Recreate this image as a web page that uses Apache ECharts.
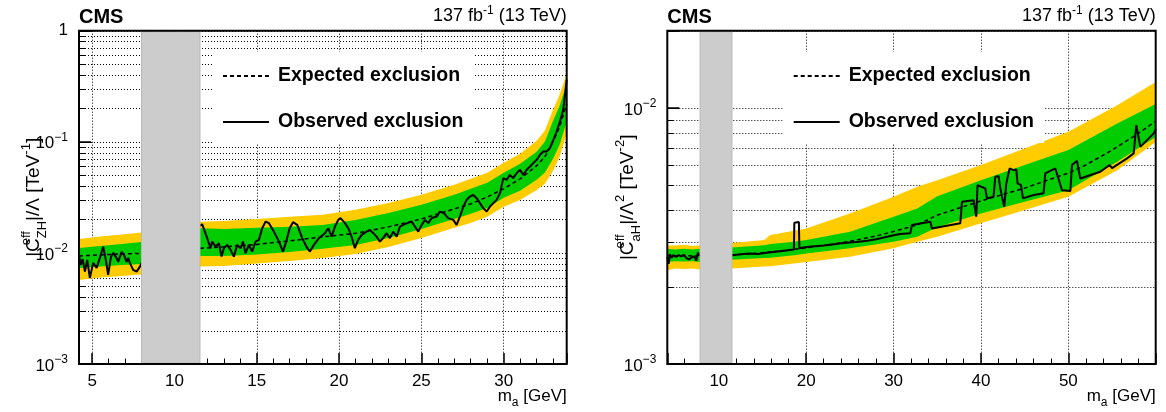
<!DOCTYPE html>
<html><head><meta charset="utf-8">
<script src="https://cdn.jsdelivr.net/npm/echarts@6/dist/echarts.min.js"></script>
<style>html,body{margin:0;padding:0;background:#fff}#c{width:1166px;height:412px}</style>
</head><body><div id="c"></div>
<script>
// ================= DATA =================
// Left panel: |C_ZH^eff|/Lambda vs m_a
const L_xRange = [4.2, 33.83];
const L_yRange = [0.001, 1];
const L_veto = [8.0, 11.55];
// rows: [m_a, -2sigma, -1sigma, +1sigma, +2sigma]
const L_band = [
  [4.2, 0.00571, 0.00733, 0.01109, 0.01337],
  [5.5, 0.00602, 0.00756, 0.01156, 0.01408],
  [6.8, 0.00621, 0.0078, 0.01205, 0.01468],
  [8.0, 0.0064, 0.00796, 0.01256, 0.0153],
  [9.8, null, null, null, null],
  [11.55, 0.00753, 0.0094, 0.0167, 0.0191],
  [13, 0.00764, 0.0094, 0.01645, 0.0194],
  [15, 0.00804, 0.00969, 0.0168, 0.0202],
  [17, 0.00847, 0.0102, 0.01715, 0.0211],
  [19, 0.00902, 0.01087, 0.01787, 0.022],
  [21, 0.00979, 0.0118, 0.0198, 0.0244],
  [23, 0.01133, 0.01365, 0.0229, 0.0282],
  [25, 0.01365, 0.01645, 0.0271, 0.0333],
  [27, 0.0168, 0.0202, 0.0333, 0.041],
  [28, 0.01863, 0.02246, 0.0377, 0.0464],
  [29, 0.0211, 0.0254, 0.0427, 0.0526],
  [30, 0.026, 0.0313, 0.0526, 0.0647],
  [31, 0.03, 0.0362, 0.0634, 0.078],
  [32, 0.0369, 0.0455, 0.0813, 0.1021],
  [32.5, 0.0418, 0.0526, 0.1, 0.1255],
  [33, 0.0548, 0.0703, 0.1546, 0.194],
  [33.4, 0.0732, 0.0939, 0.211, 0.265],
  [33.83, 0.118, 0.1514, 0.333, 0.41]
];
const L_expected = [
  [4.2, 0.0094], [5.5, 0.00959], [6.8, 0.00979], [8.0, 0.0099], [9.8, '-'],
  [11.55, 0.011], [13, 0.01133], [15, 0.01193], [17, 0.01283], [19, 0.01394], [21, 0.015],
  [23, 0.01715], [25, 0.0202], [27, 0.0249], [28, 0.0276], [29, 0.0319], [30, 0.0377],
  [31, 0.0464], [32, 0.0608], [32.5, 0.0733], [33, 0.1], [33.4, 0.1365], [33.83, 0.22]
];
const L_observed = [
  [4.2,0.00959],[4.3,0.0078],[4.42,0.0088],[4.56,0.00678],[4.7,0.00865],[4.86,0.00595],[5.06,0.00813],
  [5.27,0.00733],[5.47,0.00902],[5.67,0.0114],[5.83,0.00865],[5.97,0.00634],[6.14,0.0092],[6.28,0.01],
  [6.48,0.00902],[6.58,0.0083],[6.79,0.0102],[6.93,0.00959],[7.09,0.0083],[7.19,0.00902],[7.29,0.00813],
  [7.49,0.00703],[7.7,0.00678],[7.9,0.00753],[8.0,0.00813],
  [9.8,'-'],
  [11.55,0.0175],[11.68,0.01814],[11.99,0.01357],[12.19,0.01102],[12.29,0.01264],[12.5,0.0114],[12.7,0.01223],
  [12.86,0.00926],[13.0,0.01102],[13.2,0.01181],[13.41,0.01064],[13.61,0.00926],[13.81,0.01181],[14.02,0.01102],
  [14.16,0.01264],[14.32,0.00994],[14.52,0.01181],[14.72,0.01027],[14.93,0.01264],[15.13,0.0131],[15.33,0.01669],
  [15.54,0.01914],[15.74,0.01852],[16.04,0.01555],[16.35,0.01264],[16.59,0.01027],[16.79,0.01264],[17.0,0.01669],
  [17.2,0.0189],[17.46,0.01788],[17.76,0.01357],[18.07,0.01102],[18.23,0.01027],[18.47,0.01181],[18.78,0.01357],
  [19.14,0.01505],[19.34,0.01669],[19.55,0.01402],[19.75,0.01726],[19.95,0.01983],[20.09,0.02054],[20.36,0.01852],
  [20.56,0.01669],[20.76,0.01402],[20.96,0.01102],[21.16,0.0131],[21.37,0.01453],[21.67,0.01555],[21.88,0.01611],
  [22.08,0.01505],[22.28,0.01402],[22.48,0.01264],[22.68,0.01357],[22.89,0.01505],[23.09,0.01357],[23.29,0.01555],
  [23.5,0.01402],[23.7,0.01726],[23.9,0.01788],[24.14,0.01852],[24.41,0.01914],[24.61,0.01726],[24.81,0.01555],
  [25.02,0.01788],[25.22,0.01983],[25.42,0.01852],[25.62,0.02054],[25.93,0.02123],[26.13,0.02355],[26.37,0.02278],
  [26.63,0.02054],[26.94,0.01983],[27.14,0.01788],[27.34,0.02123],[27.55,0.02613],[27.75,0.03],[27.95,0.03215],
  [28.15,0.0333],[28.36,0.0311],[28.56,0.02804],[28.76,0.02528],[28.97,0.02355],[29.17,0.02613],[29.37,0.02804],
  [29.57,0.03],[29.78,0.0345],[29.98,0.0471],[30.18,0.04545],[30.38,0.0504],[30.58,0.0471],[30.79,0.05225],
  [30.99,0.056],[31.19,0.0504],[31.4,0.056],[31.6,0.0599],[31.8,0.0643],[32.01,0.0688],[32.21,0.0764],
  [32.41,0.0818],[32.61,0.0818],[32.81,0.0878],[33.02,0.1042],[33.22,0.1238],[33.42,0.1524],[33.62,0.194],[33.83,0.362]
];

// Right panel: |C_aH^eff|/Lambda^2 vs m_a
const R_xRange = [4.1, 60];
const R_yRange = [0.001, 0.02];
const R_veto = [7.85, 11.5];
const R_band = [
  [4.1, 0.00232, 0.0025, 0.00282, 0.00291],
  [5, 0.00236, 0.00252, 0.0028, 0.0029],
  [6, 0.00235, 0.00251, 0.00282, 0.00292],
  [7, 0.00236, 0.00252, 0.0028, 0.00289],
  [7.85, 0.00234, 0.0025, 0.00282, 0.00291],
  [9.7, null, null, null, null],
  [11.5, 0.00236, 0.00255, 0.00285, 0.00297],
  [15.2, 0.0024, 0.00259, 0.00291, 0.00305],
  [15.9, 0.00241, 0.0026, 0.00294, 0.00319],
  [18.6, 0.00247, 0.00266, 0.003, 0.00331],
  [20, 0.0025, 0.0027, 0.00305, 0.00338],
  [25, 0.00262, 0.00283, 0.00328, 0.00387],
  [30, 0.00283, 0.003, 0.00376, 0.0045],
  [32.7, 0.003, 0.00314, 0.00405, 0.00492],
  [35, 0.00314, 0.00342, 0.00452, 0.00522],
  [40, 0.00354, 0.00387, 0.00522, 0.00598],
  [45, 0.00399, 0.0043, 0.00598, 0.00694],
  [50, 0.0045, 0.00477, 0.00684, 0.00806],
  [55.6, 0.00571, 0.00616, 0.00869, 0.01024],
  [60, 0.00735, 0.00769, 0.01034, 0.0126]
];
const R_expected = [
  [4.1,0.00265],[5,0.00264],[6,0.00265],[7,0.00264],[7.85,0.00265],[9.7,'-'],
  [11.5,0.00266],[15,0.00272],[18.6,0.0028],[22,0.0029],[25,0.00301],[28,0.00316],[30,0.00329],
  [32.7,0.00349],[35,0.00381],[40,0.00433],[45,0.00486],[50,0.00556],[52,0.00598],[55,0.00684],
  [57.9,0.0079],[60,0.00887]
];
const R_observed = [
  [4.1,0.00262],[4.25,0.00246],[4.4,0.00268],[4.6,0.0026],[4.8,0.00266],[5.1,0.00262],[5.4,0.00266],
  [5.7,0.00263],[6.0,0.00267],[6.3,0.00259],[6.6,0.00256],[6.9,0.00261],[7.2,0.00263],[7.4,0.00253],
  [7.6,0.00272],[7.85,0.00265],
  [9.7,'-'],
  [11.5,0.00266],[12.5,0.00268],[13.5,0.0027],[14.5,0.00269],[15.5,0.00272],[16.5,0.00274],[17.5,0.00277],
  [18.59,0.0028],[18.64,0.00356],[19.16,0.00358],[19.22,0.00283],[20,0.00286],[21,0.00288],[22,0.0029],
  [23,0.00293],[24,0.00296],[25,0.00298],[26,0.003],[27,0.00303],[28,0.00307],[28.9,0.00312],[30,0.00318],
  [30.76,0.00322],[31.91,0.00324],[32.1,0.00349],[34.2,0.00359],[34.39,0.00338],[37.63,0.00354],[37.83,0.0043],
  [39.16,0.00436],[39.46,0.00376],[39.61,0.00499],[40.49,0.00485],[40.69,0.00443],[41.44,0.0045],[41.64,0.00538],
  [42.02,0.00541],[42.21,0.00485],[42.41,0.0045],[42.67,0.00411],[42.9,0.00507],[43.28,0.0058],[43.74,0.00571],
  [44.04,0.00575],[44.19,0.00507],[44.58,0.00499],[44.81,0.00443],[46.02,0.00457],[47.17,0.00464],[47.36,0.00555],
  [48.51,0.0058],[48.7,0.00571],[49.28,0.00477],[50.23,0.00473],[50.42,0.00598],[50.99,0.00621],[51.37,0.0053],
  [53.66,0.00563],[54.73,0.00598],[55.0,0.00582],[56.72,0.00635],[57.48,0.00664],[57.78,0.00856],[58.24,0.00704],
  [59.01,0.00748],[59.77,0.00795],[60,0.00826]
];

const SERIES_NAMES = ['Expected exclusion', 'Observed exclusion'];
const LUMI = '{b|137 fb}{s|-1}{b| (13 TeV)}';

// ================= RENDERING =================
const F = '"Liberation Sans", Arial, Helvetica, sans-serif';
const YELLOW = '#FFCC00', GREEN = '#00CC00', GRAY = '#cccccc';

function decadeGrid(lo, hi) {
  const out = [];
  for (let k = Math.floor(Math.log10(lo)); k <= Math.ceil(Math.log10(hi)); k++) {
    for (let m = 1; m <= 9; m++) {
      const v = +(m * Math.pow(10, k)).toPrecision(6);
      if (v >= lo * 0.9999 && v <= hi * 1.0001) out.push(v);
    }
  }
  return out;
}

function gridLines(i, xr, yr) {
  const vals = decadeGrid(yr[0], yr[1]);
  return {
    type: 'custom', xAxisIndex: i, yAxisIndex: i, z: 1, silent: true,
    data: vals.map(v => [xr[0], v]),
    renderItem(p, api) {
      const v = api.value(1);
      const a = api.coord([xr[0], v]), b = api.coord([xr[1], v]);
      const y = Math.round(a[1]) + 0.5;
      const lg = Math.log10(v);
      const major = Math.abs(lg - Math.round(lg)) < 1e-6;
      return { type: 'group', children: [
        { type: 'line', shape: { x1: a[0], y1: y, x2: b[0], y2: y }, style: { stroke: '#000', lineWidth: 1, lineDash: [1, 2] } },
        { type: 'line', shape: { x1: a[0], y1: y, x2: a[0] + (major ? 12 : 6), y2: y }, style: { stroke: '#000', lineWidth: 1 } }
      ] };
    }
  };
}

function band(i, rows, loCol, hiCol, color, z) {
  return {
    type: 'custom', xAxisIndex: i, yAxisIndex: i, z, silent: true,
    data: [[rows[0][0], rows[0][1]]],
    renderItem(p, api) {
      const segs = []; let seg = [];
      rows.forEach(r => { if (r[1] == null) { if (seg.length) segs.push(seg); seg = []; } else seg.push(r); });
      if (seg.length) segs.push(seg);
      return { type: 'group', children: segs.map(s => ({
        type: 'polygon',
        shape: { points: s.map(r => api.coord([r[0], r[hiCol]])).concat(s.slice().reverse().map(r => api.coord([r[0], r[loCol]]))) },
        style: { fill: color }
      })) };
    }
  };
}

function veto(i, vr, yr) {
  return {
    type: 'custom', xAxisIndex: i, yAxisIndex: i, z: 6, silent: true,
    data: [[vr[0], yr[0]]],
    renderItem(p, api) {
      const a = api.coord([vr[0], yr[1]]), b = api.coord([vr[1], yr[0]]);
      return { type: 'rect', shape: { x: a[0], y: a[1] + 1, width: b[0] - a[0], height: b[1] - a[1] - 2 },
        style: { fill: GRAY, stroke: '#b8b8b8', lineWidth: 1 } };
    }
  };
}

function frame(i, xr, yr) {
  return {
    type: 'custom', xAxisIndex: i, yAxisIndex: i, z: 10, silent: true,
    data: [[xr[0], yr[0]]],
    renderItem(p, api) {
      const a = api.coord([xr[0], yr[1]]), b = api.coord([xr[1], yr[0]]);
      return { type: 'rect', shape: { x: a[0], y: a[1], width: b[0] - a[0], height: b[1] - a[1] },
        style: { fill: 'none', stroke: '#000', lineWidth: 2 } };
    }
  };
}

function lines(i, exp, obs) {
  return [
    { name: SERIES_NAMES[0], type: 'line', xAxisIndex: i, yAxisIndex: i, data: exp, symbol: 'none', z: 4,
      lineStyle: { color: '#000', width: 1.5, type: [4, 3] }, itemStyle: { color: '#000' }, silent: true },
    { name: SERIES_NAMES[1], type: 'line', xAxisIndex: i, yAxisIndex: i, data: obs, symbol: 'none', z: 5,
      lineStyle: { color: '#000', width: 2 }, itemStyle: { color: '#000' }, silent: true }
  ];
}

function yLabel(v) {
  const e = Math.log10(v), r = Math.round(e);
  if (Math.abs(e - r) > 1e-6) return '';
  return r === 0 ? '{b|1}' : '{b|10}{s|\u2212' + (-r) + '}';
}

function xAxis(i, xr, step) {
  return {
    gridIndex: i, type: 'value', min: xr[0], max: xr[1], splitNumber: 5,
    axisLine: { show: false },
    axisTick: { inside: true, length: 11, lineStyle: { color: '#000', width: 1.5 } },
    minorTick: { show: true, splitNumber: 5, length: 5.5, lineStyle: { color: '#000', width: 1 } },
    splitLine: { show: true, lineStyle: { color: '#000', width: 1, type: [1, 2] } },
    axisLabel: { color: '#000', fontSize: 17, fontFamily: F, margin: 9,
      formatter: v => (v < xr[1] - 1e-6 && Math.abs(v / step - Math.round(v / step)) < 1e-6 ? String(Math.round(v)) : '') },
    name: '{b|m}{sub|a}{b| [GeV]}', nameLocation: 'end', nameGap: 0, nameMoveOverlap: false,
    nameTextStyle: { align: 'right', verticalAlign: 'top', padding: [24, 0, 0, 0],
      rich: { b: { fontSize: 17, fontFamily: F, color: '#000', verticalAlign: 'bottom', padding: [0, 0, 4, 0] },
              sub: { fontSize: 12, fontFamily: F, color: '#000', verticalAlign: 'bottom' } } }
  };
}

const nameRich = {
  b: { fontSize: 19, fontFamily: F, color: '#000', verticalAlign: 'bottom', padding: [0, 0, 6, 0] },
  e: { fontSize: 13, fontFamily: F, color: '#000', verticalAlign: 'bottom', padding: [0, 0, 16, 0], width: 0.001 },
  s: { fontSize: 13, fontFamily: F, color: '#000', verticalAlign: 'bottom' },
  p: { fontSize: 13, fontFamily: F, color: '#000', verticalAlign: 'bottom', padding: [0, 0, 16, 0] }
};

function yAxis(i, yr, name, gap) {
  return {
    gridIndex: i, type: 'log', logBase: 10, min: yr[0], max: yr[1],
    axisLine: { show: false },
    axisTick: { inside: true, length: 12, lineStyle: { color: '#000', width: 1.5 } },
    splitLine: { show: false },
    axisLabel: { formatter: yLabel, margin: 11,
      rich: { b: { fontSize: 17, fontFamily: F, color: '#000', verticalAlign: 'bottom' },
              s: { fontSize: 12, fontFamily: F, color: '#000', verticalAlign: 'bottom', padding: [0, 0, 9, 0] } } },
    name, nameLocation: 'middle', nameGap: gap, nameMoveOverlap: false,
    nameTextStyle: { rich: nameRich }
  };
}

function legend(left) {
  return { left, top: 52, orient: 'vertical', backgroundColor: '#fff', padding: [14, 10, 11, 10],
    itemGap: 26, itemWidth: 46, itemHeight: 14, selectedMode: false, data: SERIES_NAMES,
    itemStyle: { opacity: 0 },
    textStyle: { fontSize: 19.5, fontWeight: 'bold', color: '#000', fontFamily: F, padding: [0, 0, 0, 4] } };
}

const titleRich = {
  b: { fontSize: 18, fontFamily: F, color: '#000', verticalAlign: 'bottom' },
  s: { fontSize: 12, fontFamily: F, color: '#000', verticalAlign: 'bottom', padding: [0, 0, 8, 0] }
};
function titles(left, rightGap) {
  return [
    { text: 'CMS', left, top: 7, padding: 0, textStyle: { fontSize: 20, fontWeight: 'bold', fontFamily: F, color: '#000' } },
    { text: LUMI, right: rightGap, top: 5, padding: 0,
      textStyle: { fontSize: 18, fontWeight: 'normal', fontFamily: F, color: '#000', rich: titleRich } }
  ];
}

const option = {
  animation: false,
  backgroundColor: '#fff',
  title: titles(79, 1166 - 566.7).concat(titles(667.3, 1166 - 1155.7)),
  legend: [legend(212), legend(782.7)],
  grid: [
    { left: 79, top: 30.7, width: 487.7, height: 333.3, outerBoundsMode: 'none', containLabel: false },
    { left: 667.3, top: 30.7, width: 488.4, height: 333.3, outerBoundsMode: 'none', containLabel: false }
  ],
  xAxis: [xAxis(0, L_xRange, 5), xAxis(1, R_xRange, 10)],
  yAxis: [
    yAxis(0, L_yRange, '{b||C}{e|eff}{s|ZH}{b||/\u039B [TeV}{p|-1}{b|]}', 30),
    yAxis(1, R_yRange, '{b||C}{e|eff}{s|aH}{b||/\u039B}{p|2}{b| [TeV}{p|-2}{b|]}', 24)
  ],
  series: [
    gridLines(0, L_xRange, L_yRange),
    band(0, L_band, 1, 4, YELLOW, 2),
    band(0, L_band, 2, 3, GREEN, 3),
    ...lines(0, L_expected, L_observed),
    veto(0, L_veto, L_yRange),
    frame(0, L_xRange, L_yRange),
    gridLines(1, R_xRange, R_yRange),
    band(1, R_band, 1, 4, YELLOW, 2),
    band(1, R_band, 2, 3, GREEN, 3),
    ...lines(1, R_expected, R_observed),
    veto(1, R_veto, R_yRange),
    frame(1, R_xRange, R_yRange)
  ]
};

const chart = echarts.init(document.getElementById('c'));
chart.setOption(option);
</script>
</body></html>
